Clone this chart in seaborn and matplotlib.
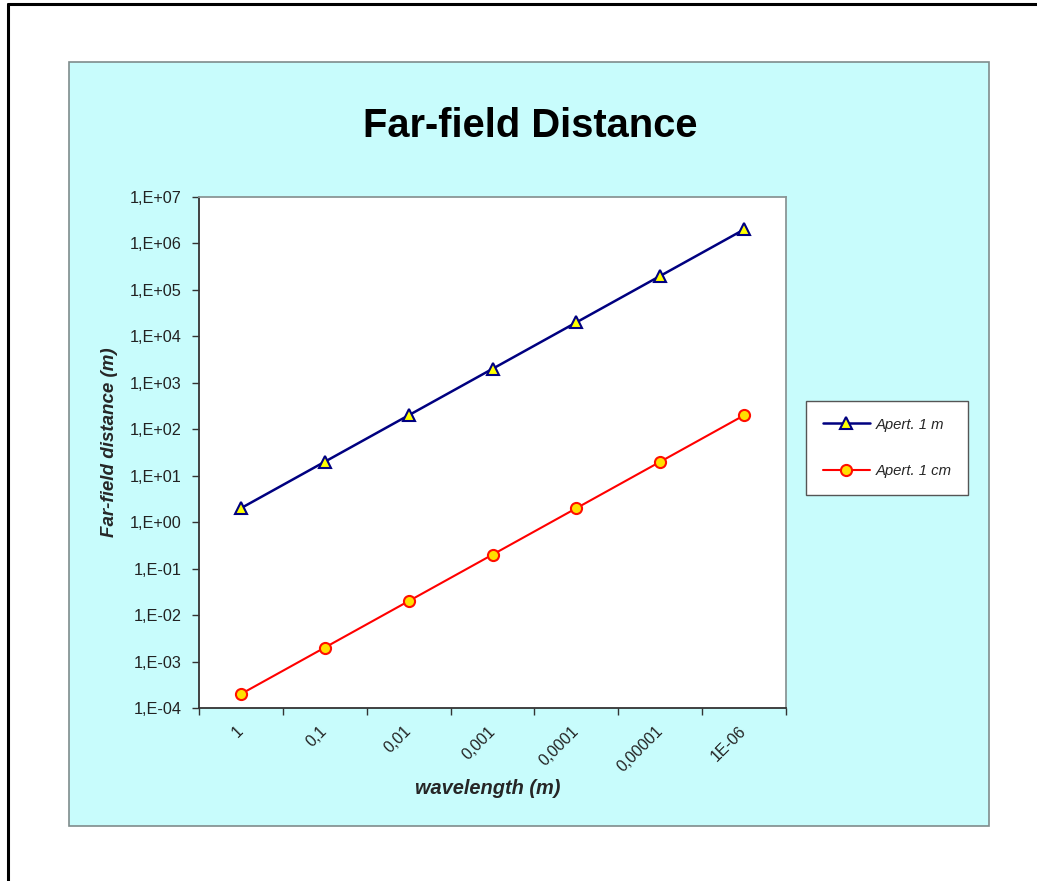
import math
import matplotlib
matplotlib.use("Agg")
import matplotlib.pyplot as plt
from matplotlib.patches import Rectangle
from matplotlib.lines import Line2D
from matplotlib.ticker import FixedLocator, NullLocator
from matplotlib.transforms import ScaledTranslation
import seaborn as sns
import pandas as pd

# Wavelength categories and far-field distances (2*D^2/lambda)
wavelength_labels = ["1", "0,1", "0,01", "0,001", "0,0001", "0,00001", "1E-06"]
dist_aperture_1m = [2, 20, 200, 2000, 20000, 200000, 2000000]
dist_aperture_1cm = [2e-4, 2e-3, 2e-2, 2e-1, 2, 20, 200]
y_ticks = [1e-4, 1e-3, 1e-2, 1e-1, 1e0, 1e1, 1e2, 1e3, 1e4, 1e5, 1e6, 1e7]

sns.set_style("white")
plt.rcParams["font.family"] = ["Liberation Sans", "DejaVu Sans"]

W, H = 1037, 881
fig = plt.figure(figsize=(W / 100, H / 100), dpi=100)
fig.patch.set_facecolor("white")

def fx(px):
    return px / W

def fy(py):
    return 1 - py / H

# outer page frame (left and top edges)
fig.add_artist(Line2D([fx(8), fx(8)], [fy(4), 0], color="black", lw=2.2,
                      transform=fig.transFigure))
fig.add_artist(Line2D([fx(8), 1], [fy(4), fy(4)], color="black", lw=2.2,
                      transform=fig.transFigure))

# chart area panel
fig.add_artist(Rectangle((fx(69), fy(826)), fx(989) - fx(69), fy(62) - fy(826),
                         transform=fig.transFigure, facecolor="#C8FCFC",
                         edgecolor="#7F8C8C", lw=1.2, zorder=0))

ax = fig.add_axes([fx(199), fy(708), fx(786) - fx(199), fy(197) - fy(708)])
ax.set_facecolor("white")

df = pd.DataFrame({
    "pos": list(range(len(wavelength_labels))) * 2,
    "dist": dist_aperture_1m + dist_aperture_1cm,
    "series": ["Apert. 1 m"] * len(wavelength_labels) + ["Apert. 1 cm"] * len(wavelength_labels),
})

sns.lineplot(data=df[df.series == "Apert. 1 m"], x="pos", y="dist", ax=ax,
             color="#000080", lw=1.8, marker="^", markersize=8,
             markerfacecolor="#FFFF00", markeredgecolor="#000080",
             markeredgewidth=1.5, label="Apert. 1 m")
sns.lineplot(data=df[df.series == "Apert. 1 cm"], x="pos", y="dist", ax=ax,
             color="#FF0000", lw=1.5, marker="o", markersize=8,
             markerfacecolor="#FFE000", markeredgecolor="#FF1000",
             markeredgewidth=1.5, label="Apert. 1 cm")

ax.set_yscale("log")
ax.set_ylim(1e-4, 1e7)
ax.yaxis.set_major_locator(FixedLocator(y_ticks))
ax.yaxis.set_minor_locator(NullLocator())
ax.set_yticklabels([f"1,E{int(round(math.log10(v))):+03d}" for v in y_ticks])

n = len(wavelength_labels)
ax.set_xlim(-0.5, n - 0.5)
ax.xaxis.set_major_locator(FixedLocator([i - 0.5 for i in range(n + 1)]))
ax.xaxis.set_minor_locator(FixedLocator(list(range(n))))
ax.set_xticklabels([""] * (n + 1))
ax.set_xticklabels(wavelength_labels, minor=True, rotation=45, ha="right",
                   va="center", rotation_mode="anchor")
shift = ScaledTranslation(-6 / 100, 0, fig.dpi_scale_trans)
for lbl in ax.get_xticklabels(minor=True):
    lbl.set_transform(lbl.get_transform() + shift)

ax.tick_params(axis="both", which="major", direction="out", length=5,
               width=1, color="#333333", labelsize=11.7, labelcolor="#222222",
               left=True, bottom=True)
ax.tick_params(axis="x", which="minor", length=0, pad=15, labelsize=11.5,
               labelcolor="#222222")
ax.tick_params(axis="y", pad=7.5)

for side in ["left", "bottom"]:
    ax.spines[side].set_color("#333333")
    ax.spines[side].set_linewidth(1.3)
for side in ["right", "top"]:
    ax.spines[side].set_color("#8A9696")
    ax.spines[side].set_linewidth(1.3)

ax.set_xlabel("wavelength (m)", fontsize=14.4, fontweight="bold",
              fontstyle="italic")
ax.set_ylabel("Far-field distance (m)", fontsize=13.5, fontweight="bold",
              fontstyle="italic")
ax.xaxis.set_label_coords((487.5 - 199) / 587, -(788 - 708) / 511)
ax.xaxis.label.set_va("center")
ax.yaxis.set_label_coords((109 - 199) / 587, (708 - 442) / 511)
ax.yaxis.label.set_va("center")

fig.text(fx(530), fy(126), "Far-field Distance", fontsize=28.7,
         fontweight="bold", ha="center", va="center", color="black")

leg = ax.legend(loc="center", bbox_to_anchor=(fx(887), fy(448)),
                bbox_transform=fig.transFigure, frameon=True, fancybox=False,
                prop={"style": "italic", "size": 10.7}, handlelength=3.2,
                labelspacing=2.2, borderpad=1.1, handletextpad=0.35,
                borderaxespad=0)
leg.get_frame().set_edgecolor("#555555")
leg.get_frame().set_linewidth(1.0)
leg.get_frame().set_facecolor("white")
leg.get_frame().set_alpha(1)

fig.savefig("out.png", dpi=100)
